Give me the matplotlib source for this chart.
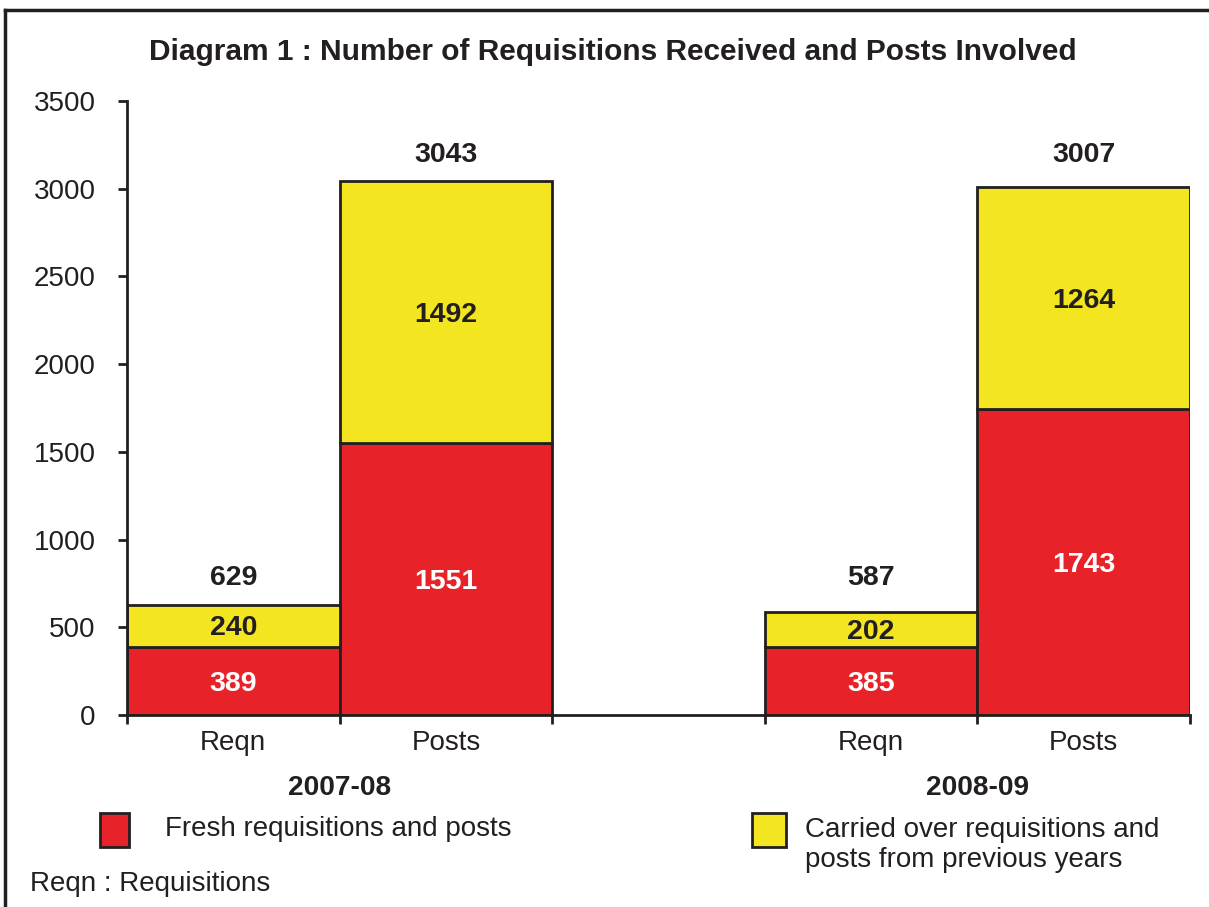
import matplotlib
matplotlib.use("Agg")
import matplotlib.pyplot as plt
from matplotlib.patches import Rectangle
from matplotlib.lines import Line2D

plt.rcParams['font.family'] = ['Liberation Sans', 'DejaVu Sans']

years = ["2007-08", "2008-09"]
categories = ["Reqn", "Posts"]
fresh = [389, 1551, 385, 1743]
carried = [240, 1492, 202, 1264]
totals = [629, 3043, 587, 3007]
yticks = [0, 500, 1000, 1500, 2000, 2500, 3000, 3500]

RED = "#E82229"
YEL = "#F3E620"
INK = "#231F20"

W, H = 1209, 907
fig = plt.figure(figsize=(W / 100, H / 100), dpi=100)
ax = fig.add_axes([127 / W, 1 - 715 / H, (1190 - 127) / W, (715 - 101) / H])

pos = [0.5, 1.5, 3.5, 4.5]
ax.bar(pos, fresh, width=1.0, color=RED, edgecolor=INK, linewidth=2, zorder=2)
ax.bar(pos, carried, width=1.0, bottom=fresh, color=YEL, edgecolor=INK, linewidth=2, zorder=2)

# totals of the same category are placed at a common height
cat_max = [max(totals[i] for i in range(len(totals)) if i % 2 == k) for k in range(2)]

for i, x in enumerate(pos):
    ax.text(x, fresh[i] / 2 - 15, str(fresh[i]), ha='center', va='center', color='white',
            fontsize=20.5, fontweight='bold', zorder=3)
    ax.text(x, fresh[i] + carried[i] / 2 - 15, str(carried[i]), ha='center', va='center', color=INK,
            fontsize=20.5, fontweight='bold', zorder=3)
    ax.text(x, cat_max[i % 2] + 150, str(totals[i]), ha='center', va='center', color=INK,
            fontsize=20.5, fontweight='bold', zorder=3)

ax.set_xlim(0, 5)
ax.set_ylim(0, 3500)
ax.set_yticks(yticks)
ax.set_yticklabels([str(v) for v in yticks], fontsize=20, color=INK)
ax.set_xticks([0, 1, 2, 3, 4, 5])
ax.set_xticklabels([])
ax.set_xticks(pos, minor=True)
ax.set_xticklabels(categories * 2, minor=True, fontsize=20, color=INK)
ax.tick_params(axis='x', which='minor', length=0, pad=11)
ax.tick_params(axis='x', which='major', length=6.5, width=2, color=INK, direction='out')
ax.tick_params(axis='y', length=6.5, width=2, color=INK, direction='out', pad=16)
for s in ['top', 'right']:
    ax.spines[s].set_visible(False)
for s in ['left', 'bottom']:
    ax.spines[s].set_linewidth(2)
    ax.spines[s].set_color(INK)

for gx, yr in zip([1, 4], years):
    ax.text(gx, -415, yr, ha='center', va='center', fontsize=20.2, fontweight='bold', color=INK)

fig.text(613 / W, 1 - 52 / H, "Diagram 1 : Number of Requisitions Received and Posts Involved",
         ha='center', va='center', fontsize=21.5, fontweight='bold', color=INK)

# frame lines
fig.add_artist(Line2D([5 / W, 5 / W], [0, 1 - 10 / H], transform=fig.transFigure, color=INK, lw=2.5))
fig.add_artist(Line2D([5 / W, 1], [1 - 10 / H, 1 - 10 / H], transform=fig.transFigure, color=INK, lw=2.5))

# legend
fig.add_artist(Rectangle((100 / W, 1 - 847 / H), 29 / W, 34 / H, transform=fig.transFigure,
                         facecolor=RED, edgecolor=INK, lw=2))
fig.text(165 / W, 1 - 829 / H, "Fresh requisitions and posts", ha='left', va='center',
         fontsize=20, color=INK)
fig.add_artist(Rectangle((752 / W, 1 - 847 / H), 34 / W, 34 / H, transform=fig.transFigure,
                         facecolor=YEL, edgecolor=INK, lw=2))
fig.text(805 / W, 1 - 845 / H, "Carried over requisitions and\nposts from previous years",
         ha='left', va='center', fontsize=20, color=INK, linespacing=1.2)

fig.text(30 / W, 1 - 884 / H, "Reqn : Requisitions", ha='left', va='center', fontsize=20, color=INK)

fig.savefig("out.png", dpi=100)
